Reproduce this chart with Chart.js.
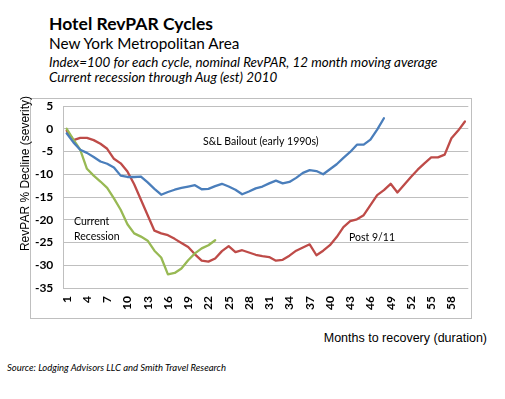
<!DOCTYPE html>
<html>
<head>
<meta charset="utf-8">
<script src="https://cdn.jsdelivr.net/npm/chart.js@4.4.0/dist/chart.umd.min.js"></script>
<style>
body { margin: 0; background: #fff; }
#wrap { position: relative; width: 505px; height: 399px; overflow: hidden; font-family: Lato, sans-serif; color: #000; }
.t { position: absolute; left: 49px; white-space: nowrap; line-height: 1; }
#box { position: absolute; left: 30px; top: 98px; width: 442px; height: 221px; border: 1px solid #bfbfbf; box-sizing: border-box; }
#chart { position: absolute; left: 0; top: 0; }
</style>
</head>
<body>
<div id="wrap">
  <div class="t" style="top:14.5px;font-size:17.5px;font-weight:bold;">Hotel RevPAR Cycles</div>
  <div class="t" style="top:36.4px;font-size:15.3px;">New York Metropolitan Area</div>
  <div class="t" style="top:55.8px;font-size:13.4px;font-style:italic;">Index=100 for each cycle, nominal RevPAR, 12 month moving average</div>
  <div class="t" style="top:71.4px;font-size:13.4px;font-style:italic;">Current recession through Aug (est) 2010</div>
  <div id="box"></div>
  <div class="t" style="left:auto;right:18px;top:331.7px;font-size:12.5px;font-family:'Liberation Sans',Arial,sans-serif;">Months to recovery (duration)</div>
  <div class="t" style="left:7px;top:362.6px;font-size:9.5px;font-style:italic;">Source: Lodging Advisors LLC and Smith Travel Research</div>
  <canvas id="chart" width="505" height="399"></canvas>
</div>
<script>
var months = [];
for (var m = 1; m <= 60; m++) months.push(String(m));

// S&L Bailout (early 1990s)
var savingsLoan = [-1.0, -3.0, -4.6, -5.3, -6.2, -7.2, -7.7, -8.5, -10.3, -10.6,
  -10.6, -10.5, -11.8, -13.2, -14.5, -13.9, -13.4, -13.0, -12.7, -12.4,
  -13.3, -13.2, -12.6, -12.1, -12.7, -13.4, -14.4, -13.8, -13.1, -12.7,
  -12.0, -11.4, -12.0, -11.7, -10.8, -9.7, -9.1, -9.3, -10.0, -8.9,
  -7.8, -6.4, -5.1, -3.5, -3.5, -2.4, -0.2, 2.3];

// Post 9/11
var post911 = [-0.4, -2.5, -2.0, -2.0, -2.5, -3.3, -4.4, -6.6, -7.6, -9.4,
  -12.2, -15.6, -19.0, -22.4, -23.0, -23.4, -24.2, -25.1, -26.0, -27.6,
  -29.0, -29.2, -28.5, -26.9, -25.8, -27.1, -26.7, -27.2, -27.7, -28.0,
  -28.2, -29.0, -28.8, -27.9, -26.8, -26.1, -25.4, -27.8, -26.8, -25.6,
  -23.8, -21.6, -20.3, -19.9, -19.0, -16.8, -14.6, -13.5, -12.1, -14.0,
  -12.3, -10.6, -9.0, -7.6, -6.3, -6.3, -5.7, -2.1, -0.4, 1.6];

// Current recession
var current = [0.0, -2.4, -4.6, -8.8, -10.3, -11.6, -13.0, -15.3, -17.8, -21.0,
  -23.0, -23.7, -24.6, -26.8, -28.3, -32.0, -31.7, -30.7, -28.9, -27.4,
  -26.3, -25.6, -24.5];

var yTicks = [5, 0, -5, -10, -15, -20, -25, -30, -35];

// rotated month labels every 3rd category + text notes
var notes = {
  id: 'notes',
  afterDraw: function (chart) {
    var ctx = chart.ctx;
    var xs = chart.scales.x;
    ctx.save();
    ctx.fillStyle = '#000';
    ctx.font = 'bold 12px Lato';
    ctx.textAlign = 'right';
    ctx.textBaseline = 'middle';
    months.forEach(function (lbl, i) {
      if (i % 3) return;
      ctx.save();
      ctx.translate(xs.getPixelForValue(i), chart.chartArea.bottom + 8);
      ctx.rotate(-Math.PI / 2);
      ctx.fillText(lbl, 0, 0);
      ctx.restore();
    });
    ctx.textAlign = 'left';
    ctx.textBaseline = 'alphabetic';
    ctx.font = '10.5px Lato';
    ctx.fillText('S&L Bailout (early 1990s)', 203, 145);
    ctx.fillText('Current', 74, 225);
    ctx.fillText('Recession', 74, 239.5);
    ctx.fillText('Post 9/11', 349, 241);
    ctx.font = '12px "Liberation Sans"';
    ctx.translate(28.5, 173.5);
    ctx.rotate(-Math.PI / 2);
    ctx.textAlign = 'center';
    ctx.fillText('RevPAR % Decline (severity)', 0, 0);
    ctx.restore();
  }
};

var ctx = document.getElementById('chart');

var revparChart = new Chart(ctx, {
  type: 'line',
  data: {
    labels: months,
    datasets: [{
      label: 'S&L Bailout (early 1990s)',
      data: savingsLoan,
      borderColor: '#4a7ebb'
    }, {
      label: 'Current Recession',
      data: current,
      borderColor: '#98b954'
    }, {
      label: 'Post 9/11',
      data: post911,
      borderColor: '#be4b48'
    }]
  },
  options: {
    responsive: false,
    animation: false,
    events: [],
    elements: {
      point: { radius: 0 },
      line: { borderWidth: 2.3, tension: 0, borderCapStyle: 'round', borderJoinStyle: 'round' }
    },
    layout: { padding: { left: 0, right: 36.7, top: 106, bottom: 0 } },
    plugins: {
      legend: { display: false },
      tooltip: { enabled: false }
    },
    scales: {
      x: {
        offset: true,
        afterFit: function (s) { s.height = 111; },
        grid: { display: false, drawTicks: false },
        border: { display: false },
        ticks: { display: false, autoSkip: false }
      },
      y: {
        min: -35,
        max: 5,
        afterFit: function (s) { s.width = 63.3; },
        afterBuildTicks: function (s) { s.ticks = yTicks.map(function (v) { return { value: v }; }); },
        grid: { color: '#bfbfbf', lineWidth: 1, drawTicks: false },
        border: { display: true, color: '#bfbfbf' },
        ticks: {
          padding: 10,
          color: '#000',
          font: { family: 'Lato', size: 12, weight: 'bold' }
        }
      }
    }
  },
  plugins: [notes]
});
</script>
</body>
</html>
